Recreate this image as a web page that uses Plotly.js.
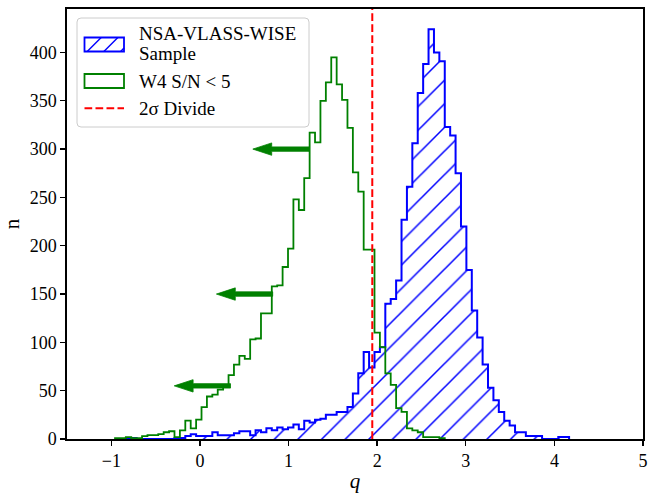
<!DOCTYPE html>
<html><head><meta charset="utf-8">
<script src="https://cdn.plot.ly/plotly-3.0.1.min.js"></script>
<style>html,body{margin:0;padding:0;background:#fff}#chart{width:648px;height:495px}</style>
</head><body><div id="chart"></div>
<script>
// ---- data ----
const binWidth = 0.061;                 // histogram bin width in q
const greenStart = -0.958;              // left edge of first "W4 S/N < 5" bin
const greenCounts = [1,1,2,1,1,3,4,4,5,7,8,2,9,19,11,20,33,44,46,51,55,66,77,86,83,103,104,130,130,158,159,178,197,
  248,237,270,317,307,350,369,395,367,351,322,276,256,196,196,110,95,68,56,32,28,11,9,7,2,2,2,1];
const blueStart = -0.836;               // left edge of first "NSA-VLASS-WISE Sample" bin
const blueCounts = [1,1,0,0,0,0,0,0,0,1,1,3,5,3,3,3,7,4,4,4,6,8,8,4,9,7,11,9,12,10,12,
  15,10,19,17,20,21,25,25,28,28,33,47,68,90,74,90,95,140,145,164,227,261,306,358,388,424,400,391,323,314,
  275,220,175,133,105,77,53,40,28,19,14,7,7,3,3,3,0,0,0,2,2];
const divideQ = 1.945;                  // 2 sigma divide
const arrowTailQ = [1.232, 0.821, 0.345];
const arrowN = [300, 150, 55];
const arrowLength = 0.635;
const xTicks = [-1, 0, 1, 2, 3, 4, 5];
const yTicks = [0, 50, 100, 150, 200, 250, 300, 350, 400];
const legendLabels = ['NSA-VLASS-WISE', 'Sample', 'W4 S/N &lt; 5', '2σ Divide'];

// ---- styles ----
const BLUE = '#0000ff', GREEN = '#008000', RED = '#ff0000';
const FONT = 'Liberation Serif, Times New Roman, serif';
const W = 648, H = 495;
const M = {l: 67, r: 5, t: 9, b: 56};
const PW = W - M.l - M.r, PH = H - M.t - M.b;

function stepXY(start, w, counts) {
  const x = [start], y = [0];
  counts.forEach((c, i) => { x.push(start + i * w); y.push(c); });
  const end = start + counts.length * w;
  x.push(end); y.push(counts[counts.length - 1]);
  x.push(end); y.push(0);
  return {x, y};
}
const blue = stepXY(blueStart, binWidth, blueCounts);
const green = stepXY(greenStart, binWidth, greenCounts);

const traces = [];
traces.push({
  type: 'scatter', mode: 'lines', x: blue.x, y: blue.y,
  line: {shape: 'hv', color: BLUE, width: 2},
  fill: 'tozeroy', fillcolor: 'rgba(0,0,0,0)',
  fillpattern: {shape: '/', fgcolor: BLUE, fgopacity: 1, bgcolor: 'rgba(0,0,0,0)', size: 16.7, solidity: 0.09, fillmode: 'overlay'},
  hoverinfo: 'skip', showlegend: false
});
traces.push({
  type: 'scatter', mode: 'lines', x: green.x, y: green.y,
  line: {shape: 'hv', color: GREEN, width: 1.8},
  hoverinfo: 'skip', showlegend: false
});
// arrows (polygon like matplotlib ax.arrow)
const shaftHalf = 2.3, headHalf = 6.4, headLen = 0.213;
arrowTailQ.forEach((x0, i) => {
  const y = arrowN[i], xb = x0 - arrowLength + headLen, xt = x0 - arrowLength;
  traces.push({
    type: 'scatter', mode: 'lines', fill: 'toself', fillcolor: GREEN,
    x: [x0, xb, xb, xt, xb, xb, x0, x0],
    y: [y + shaftHalf, y + shaftHalf, y + headHalf, y, y - headHalf, y - shaftHalf, y - shaftHalf, y + shaftHalf],
    line: {color: GREEN, width: 0.8}, hoverinfo: 'skip', showlegend: false
  });
});

// ---- custom legend (pixel positions -> paper coords) ----
const px = x => (x - M.l) / PW;
const py = y => (H - M.b - y) / PH;
const shapes = [];
shapes.push({type: 'line', xref: 'x', yref: 'paper', x0: divideQ, x1: divideQ, y0: 0, y1: 1,
  line: {color: RED, width: 2, dash: '7.7px,3.3px'}, layer: 'above'});
(function () {
  const x0 = 77, x1 = 309, y0 = 18, y1 = 127, r = 4;
  const d = `M${px(x0 + r)},${py(y0)} L${px(x1 - r)},${py(y0)} Q${px(x1)},${py(y0)} ${px(x1)},${py(y0 + r)} ` +
    `L${px(x1)},${py(y1 - r)} Q${px(x1)},${py(y1)} ${px(x1 - r)},${py(y1)} L${px(x0 + r)},${py(y1)} ` +
    `Q${px(x0)},${py(y1)} ${px(x0)},${py(y1 - r)} L${px(x0)},${py(y0 + r)} Q${px(x0)},${py(y0)} ${px(x0 + r)},${py(y0)} Z`;
  shapes.push({type: 'path', xref: 'paper', yref: 'paper', path: d, fillcolor: 'rgba(255,255,255,0.8)',
    line: {color: '#cccccc', width: 1}, layer: 'above'});
})();
const patchX0 = 84.5, patchX1 = 124;
(function () {
  const y0 = 37.5, y1 = 51.5, h = y1 - y0, sp = 16.7;
  shapes.push({type: 'rect', xref: 'paper', yref: 'paper', x0: px(patchX0), x1: px(patchX1), y0: py(y1), y1: py(y0),
    line: {color: BLUE, width: 1.8}, fillcolor: 'rgba(0,0,0,0)', layer: 'above'});
  for (let c = patchX0 - h; c < patchX1; c += sp) {
    let t0 = Math.max(0, patchX0 - c), t1 = Math.min(h, patchX1 - c);
    if (t1 <= t0) continue;
    shapes.push({type: 'line', xref: 'paper', yref: 'paper', x0: px(c + t0), y0: py(y1 - t0), x1: px(c + t1), y1: py(y1 - t1),
      line: {color: BLUE, width: 1.4}, layer: 'above'});
  }
})();
shapes.push({type: 'rect', xref: 'paper', yref: 'paper', x0: px(patchX0), x1: px(patchX1), y0: py(88), y1: py(74),
  line: {color: GREEN, width: 1.8}, fillcolor: 'rgba(0,0,0,0)', layer: 'above'});
shapes.push({type: 'line', xref: 'paper', yref: 'paper', x0: px(patchX0), x1: px(patchX1), y0: py(108.3), y1: py(108.3),
  line: {color: RED, width: 2, dash: '7.7px,3.3px'}, layer: 'above'});

const annFont = {family: FONT, size: 19, color: '#000'};
const legendRowsY = [33.5, 53.5, 81, 108.5];
const annotations = legendLabels.map((t, i) => ({
  xref: 'paper', yref: 'paper', x: px(137), y: py(legendRowsY[i]), text: t, showarrow: false,
  xanchor: 'left', yanchor: 'middle', align: 'left', font: annFont
}));

const axisCommon = {
  showgrid: false, zeroline: false, showline: true, mirror: true, linecolor: '#000', linewidth: 1.6,
  ticks: 'outside', ticklen: 5, tickwidth: 1.3, tickcolor: '#000', ticklabeloverflow: 'allow',
  tickfont: {family: FONT, size: 18, color: '#000'}
};
const layout = {
  width: W, height: H, margin: M, paper_bgcolor: '#fff', plot_bgcolor: '#fff',
  font: {family: FONT, color: '#000'},
  xaxis: Object.assign({}, axisCommon, {range: [-1.5, 5], tickmode: 'array', tickvals: xTicks,
    title: {text: '<i>q</i>', font: {family: FONT, size: 21, color: '#000'}, standoff: 3}}),
  yaxis: Object.assign({}, axisCommon, {range: [0, 445], tickmode: 'array', tickvals: yTicks,
    title: {text: 'n', font: {family: FONT, size: 21, color: '#000'}, standoff: 8}}),
  shapes: shapes, annotations: annotations, showlegend: false
};
Plotly.newPlot('chart', traces, layout, {displayModeBar: false, staticPlot: true});
</script></body></html>
